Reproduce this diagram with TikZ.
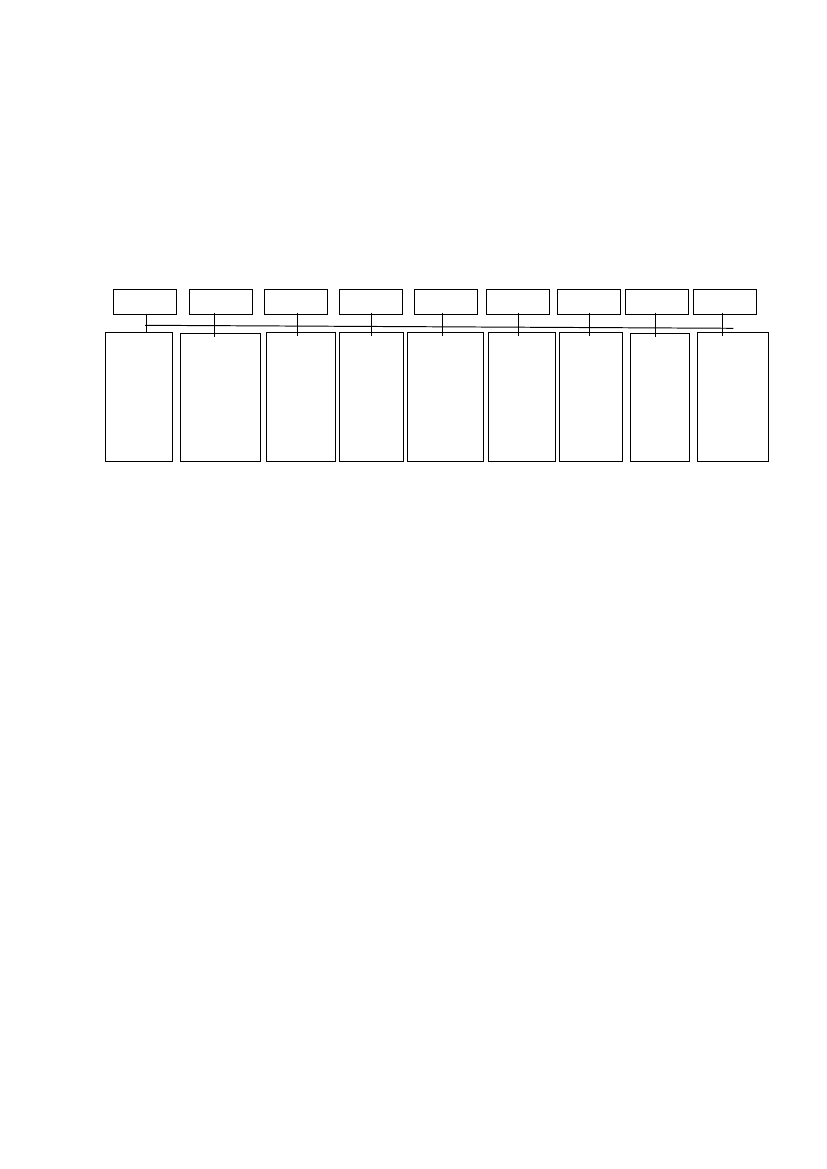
\documentclass[tikz,border=0pt]{standalone}
\usepackage{tikz}

\begin{document}
\begin{tikzpicture}[x=0.7207pt, y=-0.7207pt, line width=0.7pt,
        head/.style={draw, inner sep=0pt, minimum width=45.7pt, minimum height=18pt},
        part/.style={draw, inner sep=0pt, minimum height=93.3pt},
        stem/.style={shorten <=-1.5pt, shorten >=-3.3pt}]
        % Fix the page size
        \useasboundingbox (0,0) rectangle (826,1169);

        % Draw the row of small boxes on top
        \node[head] (t1) at (145,301.8) {};
        \node[head] (t2) at (221,301.8) {};
        \node[head] (t3) at (296,301.8) {};
        \node[head] (t4) at (371,301.8) {};
        \node[head] (t5) at (446,301.8) {};
        \node[head] (t6) at (518.2,301.8) {};
        \node[head] (t7) at (589,301.8) {};
        \node[head] (t8) at (657,301.8) {};
        \node[head] (t9) at (725,301.8) {};

        % Draw the tall boxes below
        \node[part, minimum width=48.6pt] (b1) at (139,397) {};
        \node[part, minimum width=57.7pt, minimum height=92.5pt] (b2) at (220.3,397.5) {};
        \node[part, minimum width=49.7pt] (b3) at (300.8,397) {};
        \node[part, minimum width=46.4pt] (b4) at (371.5,397) {};
        \node[part, minimum width=55.1pt] (b5) at (445.5,397) {};
        \node[part, minimum width=48.3pt] (b6) at (521.8,397) {};
        \node[part, minimum width=45.4pt] (b7) at (590.8,397) {};
        \node[part, minimum width=42.5pt, minimum height=92.5pt] (b8) at (659.8,397.5) {};
        \node[part, minimum width=51.5pt] (b9) at (733,397) {};

        % Draw the long line across the stems
        \coordinate (lineL) at (145,325.3);
        \coordinate (lineR) at (733.3,328.3);
        \draw (lineL) -- (lineR);

        % Draw the stems from the top boxes into the tall boxes
        \draw ([xshift=0.9pt]t1.south) -- ([xshift=0.9pt]t1.south |- b1.north);
        \draw[stem] ([xshift=-4.5pt]t2.south) -- ([xshift=-4.5pt]t2.south |- b2.north);
        \draw[stem] ([xshift=1.2pt]t3.south) -- ([xshift=1.2pt]t3.south |- b3.north);
        \draw[stem] (t4.south) -- (t4.south |- b4.north);
        \draw[stem] ([xshift=-2.7pt]t5.south) -- ([xshift=-2.7pt]t5.south |- b5.north);
        \draw[stem] (t6.south) -- (t6.south |- b6.north);
        \draw[stem] (t7.south) -- (t7.south |- b7.north);
        \draw[stem] ([xshift=-1.2pt]t8.south) -- ([xshift=-1.2pt]t8.south |- b8.north);
        \draw[stem] ([xshift=-1.9pt]t9.south) -- ([xshift=-1.9pt]t9.south |- b9.north);
    \end{tikzpicture}
\end{document}
